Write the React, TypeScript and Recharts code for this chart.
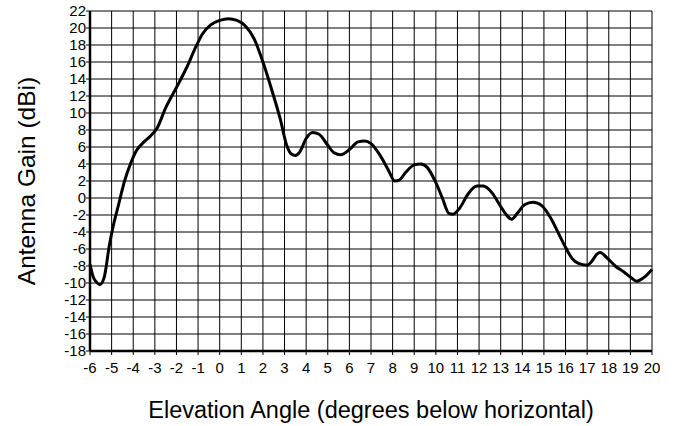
import React from "react";
import { LineChart, Line, XAxis, YAxis, CartesianGrid, Label } from "recharts";

const angles = [-6, -5.85, -5.7, -5.55, -5.35, -5.1, -4.9, -4.7, -4.4, -4.1, -3.85, -3.5, -3.2, -2.9, -2.5, -2, -1.5, -1.1, -0.8, -0.4, 0, 0.4, 0.8, 1.2, 1.6, 2, 2.4, 2.8, 3.1, 3.3, 3.5, 3.7, 4.0, 4.3, 4.6, 5.0, 5.3, 5.6, 6.0, 6.4, 6.7, 7.0, 7.4, 7.8, 8.1, 8.3, 8.6, 9.0, 9.3, 9.6, 10.0, 10.3, 10.6, 10.8, 11.1, 11.5, 11.9, 12.2, 12.6, 13.0, 13.3, 13.5, 13.8, 14.1, 14.5, 14.9, 15.3, 15.7, 16.0, 16.3, 16.6, 17.0, 17.2, 17.45, 17.6, 17.9, 18.3, 18.7, 19.0, 19.3, 19.6, 20];
const gains = [-7.8, -9.3, -9.9, -10.2, -9.4, -5.5, -3, -1, 2, 4.2, 5.6, 6.6, 7.3, 8.2, 10.6, 13, 15.5, 17.8, 19.3, 20.4, 20.9, 21.1, 20.9, 20.2, 18.7, 16, 12.8, 9.3, 6.2, 5.2, 5.0, 5.4, 7.0, 7.7, 7.5, 6.2, 5.3, 5.1, 5.7, 6.6, 6.7, 6.4, 5.1, 3.3, 2.0, 2.1, 3.0, 3.9, 4.0, 3.6, 1.8, 0, -1.8, -1.9, -1.2, 0.5, 1.4, 1.4, 0.6, -1.0, -2.1, -2.5, -1.7, -0.8, -0.5, -0.9, -2.3, -4.3, -5.8, -7.1, -7.7, -7.9, -7.5, -6.6, -6.4, -7.0, -8.0, -8.7, -9.3, -9.8, -9.4, -8.4];
const xTicks = [-6, -5, -4, -3, -2, -1, 0, 1, 2, 3, 4, 5, 6, 7, 8, 9, 10, 11, 12, 13, 14, 15, 16, 17, 18, 19, 20];
const yTicks = [-18, -16, -14, -12, -10, -8, -6, -4, -2, 0, 2, 4, 6, 8, 10, 12, 14, 16, 18, 20, 22];

const data = angles.map((a, i) => ({ angle: a, gain: gains[i] }));

const font = "'Liberation Sans', Arial, sans-serif";
const tickStyle = { fontSize: 15, fill: "#000", fontFamily: font };

export default function App() {
  return (
    <div style={{ position: "absolute", left: 0, top: 0, background: "#fff" }}>
      <LineChart width={676} height={426} data={data} margin={{ top: 11, right: 24, bottom: 45, left: 0 }}>
        <CartesianGrid stroke="#000" strokeWidth={1} horizontalValues={yTicks} verticalValues={xTicks} />
        <XAxis
          dataKey="angle"
          type="number"
          domain={[-6, 20]}
          ticks={xTicks}
          interval={0}
          height={30}
          tick={tickStyle}
          tickSize={4}
          tickMargin={7}
          axisLine={{ stroke: "#000", strokeWidth: 2.5 }}
          tickLine={{ stroke: "#000" }}
        >
          <Label value="Elevation Angle (degrees below horizontal)" position="bottom" offset={20} style={{ fontSize: 23.5, fill: "#000", fontFamily: font }} />
        </XAxis>
        <XAxis xAxisId="top" orientation="top" dataKey="angle" type="number" domain={[-6, 20]} tick={false} tickLine={false} height={0} axisLine={{ stroke: "#000", strokeWidth: 2 }} />
        <YAxis
          type="number"
          domain={[-18, 22]}
          ticks={yTicks}
          interval={0}
          width={90}
          tick={tickStyle}
          tickSize={4}
          tickMargin={0}
          axisLine={{ stroke: "#000", strokeWidth: 2.5 }}
          tickLine={{ stroke: "#000" }}
        >
          <Label value="Antenna Gain (dBi)" angle={-90} position="insideLeft" offset={26} style={{ fontSize: 24.5, fill: "#000", fontFamily: font, textAnchor: "middle" }} />
        </YAxis>
        <YAxis yAxisId="right" orientation="right" type="number" domain={[-18, 22]} tick={false} tickLine={false} width={0} axisLine={{ stroke: "#000", strokeWidth: 2 }} />
        <Line dataKey="gain" type="monotone" stroke="#000" strokeWidth={3} dot={false} isAnimationActive={false} />
      </LineChart>
    </div>
  );
}
